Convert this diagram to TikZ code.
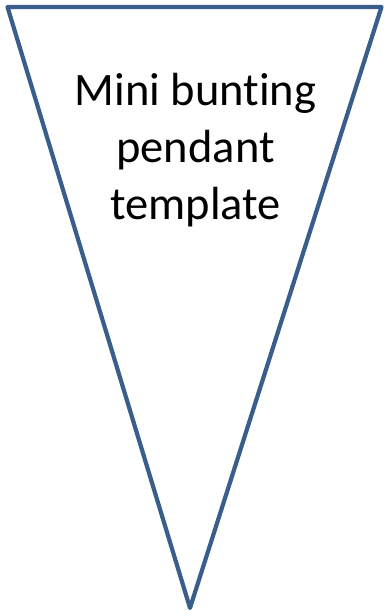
\documentclass[tikz,border=0pt]{standalone}
\usepackage{fontspec}
\setmainfont[Ligatures={NoCommon}]{Carlito}
\definecolor{outline}{HTML}{3A5E8C}
\begin{document}
\begin{tikzpicture}[x=1pt,y=-1pt,
  pennant/.style={draw=outline,line width=4.2pt,line join=round},
  label/.style={anchor=base,inner sep=0pt,font=\fontsize{46.5}{56}\selectfont}]
\useasboundingbox (0,0) rectangle (386,616);
\coordinate (tl) at (7.5,7);
\coordinate (tr) at (381.5,7);
\coordinate (bt) at (190,608);
\draw[pennant] (tl) -- (tr) -- (bt) -- cycle;
\node[label] (l1) at (195.5,105) {Mini bunting};
\node[label] (l2) at (195.5,162) {pendant};
\node[label] (l3) at (195.5,219) {template};
\end{tikzpicture}
\end{document}
